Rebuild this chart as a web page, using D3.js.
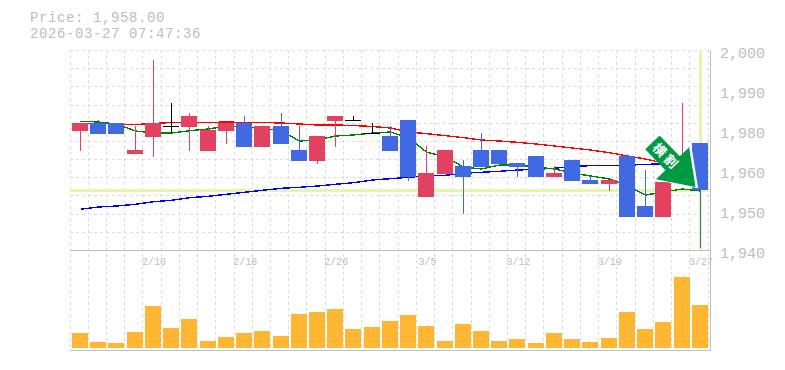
<!DOCTYPE html>
<html>
<head>
<meta charset="utf-8">
<style>
  body { margin: 0; background: #fff; }
  svg { display: block; }
  text { font-family: "Liberation Mono", "DejaVu Sans Mono", monospace; fill: #bebebe; }
</style>
<script src="https://cdnjs.cloudflare.com/ajax/libs/d3/7.8.5/d3.min.js"></script>
</head>
<body>
<div id="chart"></div>
<script>
let dates = ['2/4','2/5','2/6','2/9','2/10','2/12','2/13','2/16','2/17','2/18','2/19','2/20','2/24','2/25','2/26','2/27','3/2','3/3','3/4','3/5','3/6','3/9','3/10','3/11','3/12','3/13','3/16','3/17','3/18','3/19','3/23','3/24','3/25','3/26','3/27'];
let date_labels = ['2/10','2/18','2/26','3/5','3/12','3/19','3/27'];
let price_labels = ['2,000','1,990','1,980','1,960','1,950','1,940'];

let opens  = [1975.9,1978.3,1978.3,1969,1974.1,1977.3,1977.1,1969.9,1975.9,1978.3,1971.1,1977.4,1970.2,1966.9,1978.9,1979.1,1975.2,1974.4,1979.2,1956.1,1962.9,1965.4,1970.2,1970.2,1966.3,1968.4,1962.1,1967.2,1961.2,1960,1968.4,1953.4,1950,1960.6,1972.2];
let highs  = [1978.3,1979.2,1978.3,1977.4,1997.2,1984.3,1981.3,1977.4,1978.3,1980.4,1977.4,1981.3,1977.4,1974.4,1980.4,1980.4,1978.3,1977.4,1979.2,1971.4,1970.2,1967.2,1975.3,1970.2,1966.3,1968.4,1965.4,1967.2,1962.4,1961.2,1968.4,1964.2,1960.6,1984.3,1972.2];
let lows   = [1969.9,1975,1975,1969,1968.1,1975.3,1969.9,1969.9,1972,1971.1,1971.1,1972,1966.9,1966,1971.1,1979.1,1975.2,1969.9,1960.9,1956.1,1962.9,1951,1965.1,1966,1962.1,1962.1,1962.1,1960.9,1960,1957.9,1950,1950,1950,1960.6,1940.8];
let closes = [1978.3,1975,1975,1970.2,1978.3,1977.3,1980.4,1976.2,1978.3,1971.1,1977.4,1972,1966.9,1974.4,1980.4,1979.1,1975.2,1969.9,1962.1,1963.3,1970.2,1962.1,1965.1,1966,1965.1,1962.1,1963.3,1960.9,1960,1961.2,1950,1950,1960.6,1967.7,1958];

let ma_short = [1978.76,1978.55,1977.95,1975.85,1975.25,1975.25,1975.94,1976.45,1977.35,1977.05,1976.75,1975.85,1972.85,1973.15,1974.35,1974.65,1975.25,1975.55,1973.75,1969.55,1968.05,1965.05,1964.45,1965.65,1965.65,1965.05,1964.45,1963.25,1962.35,1961.45,1959.35,1956.65,1957.55,1958.45,1957.85];
let ma_mid   = [1978.1,1978.1,1977.95,1977.8,1978.1,1978.4,1978.4,1978.4,1978.55,1978.4,1978.4,1978.25,1977.95,1977.65,1977.65,1977.5,1977.2,1976.75,1975.55,1975.05,1974.45,1973.85,1973.15,1972.85,1972.45,1971.95,1971.35,1970.75,1970.15,1969.35,1968.35,1967.45,1966.25,1964.75,1963.55];
let ma_long  = [1952.36,1953.05,1953.35,1953.86,1954.64,1955.06,1955.84,1956.26,1956.86,1957.46,1958.06,1958.66,1958.96,1959.35,1959.86,1960.34,1961.15,1961.54,1961.96,1962.35,1962.56,1963.16,1963.46,1963.76,1964.15,1964.36,1964.66,1965.26,1965.44,1965.56,1965.56,1965.86,1965.95,1966.16,1966.25];

let volumes = [15,6,5,16,42,20,29,7,11,15,17,12,34,36,39,19,21,27,33,22,7,24,17,7,9,5,15,9,6,10,36,19,26,71,43];

let last_price = 1958;
let title_lines = ['Price: 1,958.00', '2026-03-27 07:47:36'];
let arrow_label = '横割';

let chart_width = 785;
let chart_height = 370;

let svg = d3.select('#chart')
  .append('svg')
  .attr('width', chart_width)
  .attr('height', chart_height);

// scales
let x_scale = d3.scaleBand().domain(dates).range([71, 709]);
let y_scale = d3.scaleLinear().domain([1940, 2000]).range([250.5, 50.5]);
let vol_scale = d3.scaleLinear().domain([0, 98]).range([348, 250]);
let label_scale = d3.scalePoint().domain(price_labels).range([53, 253]);

let body_x = d => Math.round(x_scale(d) + 1);
let body_w = 16;
let mid_x = d => body_x(d) + 8.5;
let grid_x = d => Math.floor(x_scale(d)) - 0.5;

// grid
let grid = svg.append('g')
  .attr('stroke', '#dcdcdc')
  .attr('stroke-dasharray', '3,3')
  .attr('shape-rendering', 'crispEdges');

grid.selectAll('.v')
  .data(dates)
  .enter()
  .append('line')
  .attr('class', 'v')
  .attr('x1', grid_x)
  .attr('x2', grid_x)
  .attr('y1', 50)
  .attr('y2', 350);

grid.append('line')
  .attr('x1', x_scale.range()[1] - 0.5)
  .attr('x2', x_scale.range()[1] - 0.5)
  .attr('y1', 50)
  .attr('y2', 350);

grid.selectAll('.h')
  .data(d3.range(0, 11))
  .enter()
  .append('line')
  .attr('class', 'h')
  .attr('x1', 70)
  .attr('x2', 710)
  .attr('y1', i => y_scale(2000 - i * 60 / 11))
  .attr('y2', i => y_scale(2000 - i * 60 / 11));

// frame
let frame = svg.append('g')
  .attr('stroke', '#c0c0c0')
  .attr('shape-rendering', 'crispEdges');

frame.append('line').attr('x1', 710.5).attr('x2', 710.5).attr('y1', 50).attr('y2', 351);
frame.append('line').attr('x1', 70).attr('x2', 710).attr('y1', 250.5).attr('y2', 250.5);
frame.append('line').attr('x1', 70).attr('x2', 710).attr('y1', 350.5).attr('y2', 350.5);

// current price cross
let last_x = mid_x(dates[dates.length - 1]);

svg.append('line')
  .attr('x1', 70)
  .attr('x2', 710)
  .attr('y1', y_scale(last_price))
  .attr('y2', y_scale(last_price))
  .attr('stroke', '#e6f5ae')
  .attr('stroke-width', 3)
  .attr('shape-rendering', 'crispEdges');

svg.append('line')
  .attr('x1', last_x)
  .attr('x2', last_x)
  .attr('y1', 50)
  .attr('y2', 250)
  .attr('stroke', '#e6f5ae')
  .attr('stroke-width', 3)
  .attr('shape-rendering', 'crispEdges');

// moving averages
let ma_line = d3.line()
  .x((d, i) => mid_x(dates[i]))
  .y(d => y_scale(d));

[[ma_long, '#0000ff'], [ma_mid, '#ff0000'], [ma_short, '#008000']].forEach(s => {
  svg.append('path')
    .attr('d', ma_line(s[0]))
    .attr('fill', 'none')
    .attr('stroke', s[1])
    .attr('stroke-width', 1.4)
    .attr('shape-rendering', 'crispEdges');
});

// candles
let candle_color = i => {
  if (opens[i] === closes[i]) return '#000';
  return closes[i] > opens[i] ? '#e2425f' : '#4169e1';
};

let candles = svg.append('g').attr('shape-rendering', 'crispEdges');

candles.selectAll('.wick')
  .data(dates)
  .enter()
  .append('line')
  .attr('class', 'wick')
  .attr('x1', mid_x)
  .attr('x2', mid_x)
  .attr('y1', (d, i) => y_scale(highs[i]))
  .attr('y2', (d, i) => y_scale(lows[i]))
  .attr('stroke', (d, i) => candle_color(i));

candles.selectAll('.body')
  .data(dates)
  .enter()
  .append('rect')
  .attr('class', 'body')
  .attr('x', body_x)
  .attr('width', body_w)
  .attr('y', (d, i) => Math.round(y_scale(Math.max(opens[i], closes[i]))))
  .attr('height', (d, i) => Math.max(1, Math.round(y_scale(Math.min(opens[i], closes[i])) - y_scale(Math.max(opens[i], closes[i])))))
  .attr('fill', (d, i) => candle_color(i));

// volume
svg.selectAll('.vol')
  .data(dates)
  .enter()
  .append('rect')
  .attr('class', 'vol')
  .attr('x', body_x)
  .attr('width', body_w)
  .attr('y', (d, i) => vol_scale(volumes[i]))
  .attr('height', (d, i) => vol_scale(0) - vol_scale(volumes[i]))
  .attr('fill', '#ffb733')
  .attr('shape-rendering', 'crispEdges');

// axes
let x_axis = d3.axisBottom(x_scale)
  .tickValues(date_labels)
  .tickSize(0)
  .tickPadding(0);

let x_g = svg.append('g')
  .attr('transform', 'translate(1,258)')
  .call(x_axis);
x_g.select('.domain').remove();
x_g.selectAll('text')
  .style('font-size', '10px')
  .style('font-family', '"Liberation Mono", monospace')
  .attr('fill', null);

let y_axis = d3.axisRight(label_scale)
  .tickSize(0)
  .tickPadding(0);

let y_g = svg.append('g')
  .attr('transform', 'translate(720,0)')
  .call(y_axis);
y_g.select('.domain').remove();
y_g.selectAll('text')
  .style('font-size', '15px')
  .style('font-family', '"Liberation Mono", monospace')
  .attr('fill', null);

// title
svg.selectAll('.title')
  .data(title_lines)
  .enter()
  .append('text')
  .attr('class', 'title')
  .attr('x', 30)
  .attr('y', (d, i) => 22 + i * 16)
  .attr('letter-spacing', 0.6)
  .style('font-size', '14px')
  .text(d => d);

// arrow badge, drawn pointing right and turned onto the last candles
let arrow_shape = [[-62, -10], [-33, -10], [-33, -23], [0, 0], [-33, 23], [-33, 10], [-62, 10]];

let arrow = svg.append('g')
  .attr('transform', 'translate(' + (last_x - 5) + ',' + (y_scale(last_price) - 3.5) + ') rotate(46)');

arrow.append('polygon')
  .attr('points', arrow_shape.join(' '))
  .attr('fill', '#fff')
  .attr('stroke', '#fff')
  .attr('stroke-width', 1.5)
  .attr('transform', 'translate(1.5,-1)');

arrow.append('polygon')
  .attr('points', arrow_shape.join(' '))
  .attr('fill', '#009944');

arrow.append('text')
  .attr('x', -42)
  .attr('y', 0)
  .attr('dy', '0.36em')
  .attr('text-anchor', 'middle')
  .attr('letter-spacing', 3)
  .style('font-family', '"Noto Sans CJK JP"')
  .style('font-weight', 700)
  .style('font-size', '13px')
  .style('fill', '#fff')
  .text(arrow_label);
</script>
</body>
</html>
